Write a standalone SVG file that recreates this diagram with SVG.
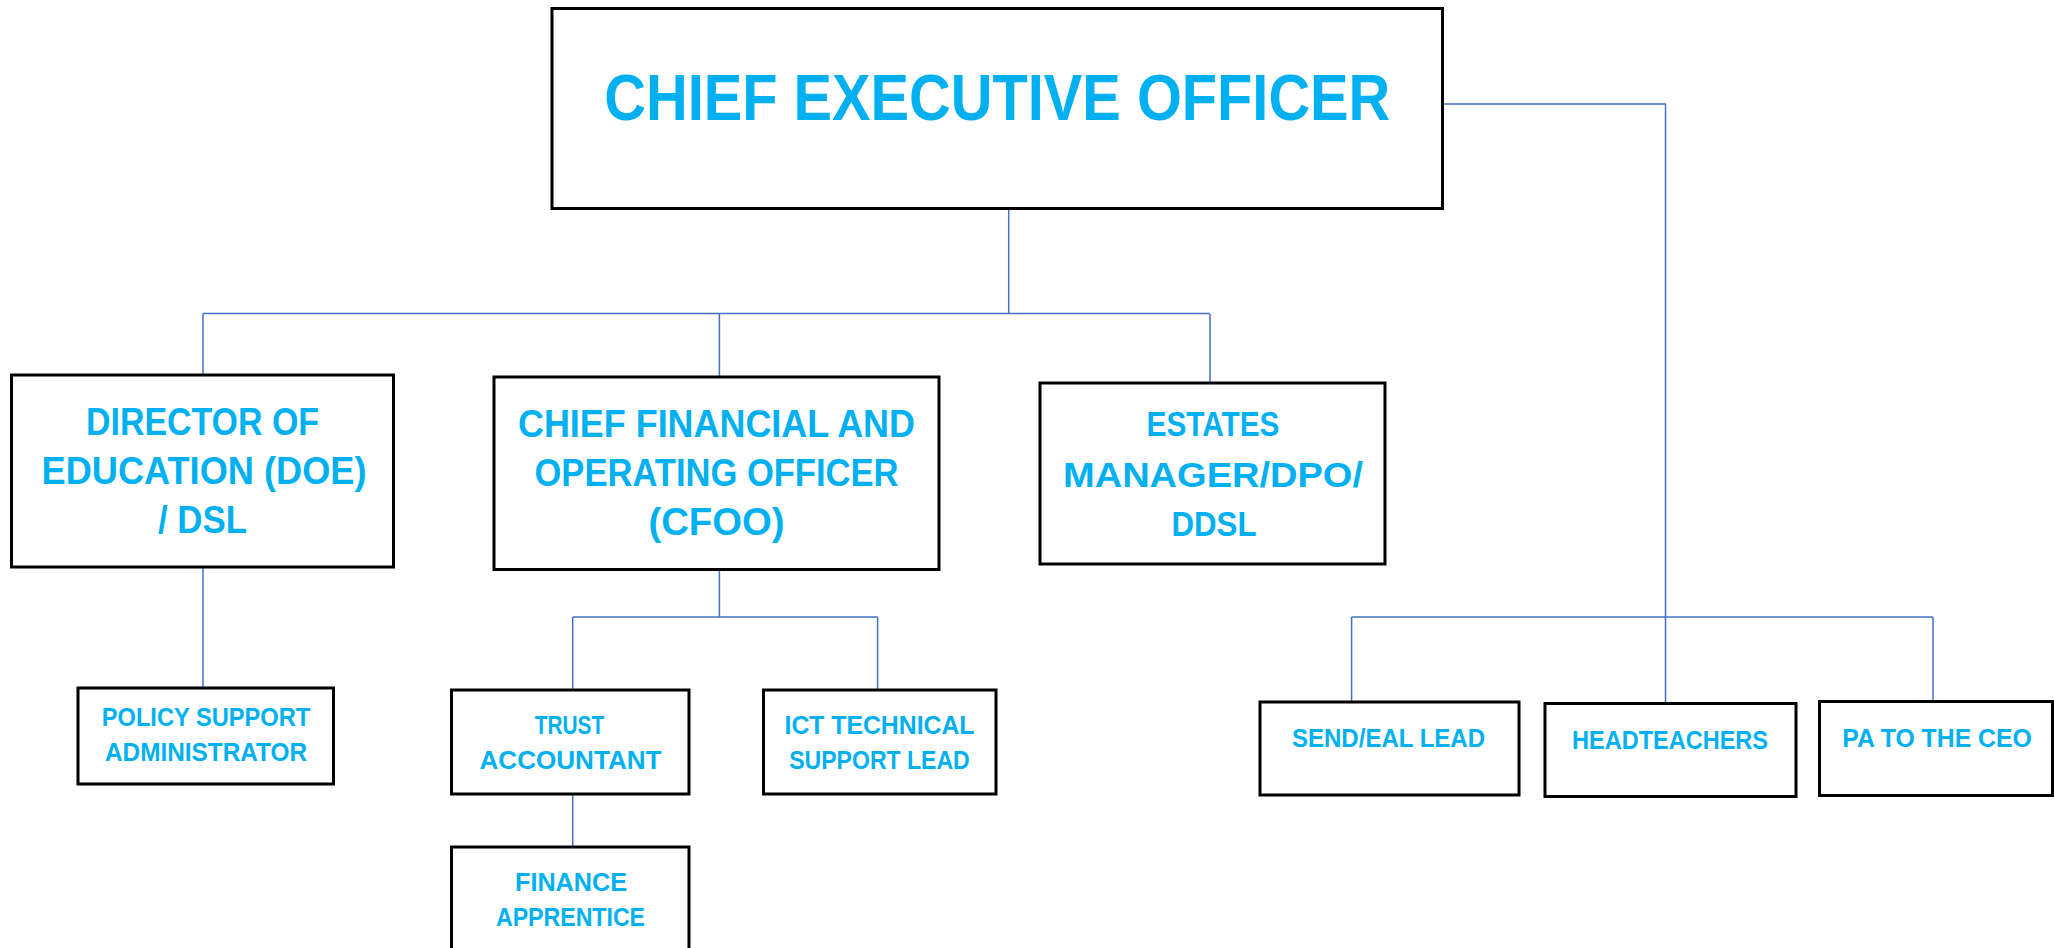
<svg xmlns="http://www.w3.org/2000/svg" width="2054" height="948" viewBox="0 0 2054 948">
<style>
.box{fill:#fff;stroke:#000;stroke-width:3}
.t{font-family:"Liberation Sans",Arial,sans-serif;font-weight:bold;fill:#00B0F0;text-anchor:middle}
.c{fill:none;stroke:#4472C4;stroke-width:1.5}
</style>
<rect width="2054" height="948" fill="#fff"/>
<g id="connectors">
<path class="c" d="M1008.7 209V314M203 313.5H1210M203 313.5V375M719.4 314V377M1210 314V383"/>
<path class="c" d="M1442.7 104H1665.5V702M1351.6 617H1933M1351.6 617V702M1933 617V701.5"/>
<path class="c" d="M203 567V688"/>
<path class="c" d="M719.4 569.5V617M572.7 617H877.6M572.7 617V690M877.6 617V690M572.7 794V847"/>
</g>
<g id="ceo">
<rect class="box" x="552" y="8.5" width="890.5" height="200"/>
<text class="t" x="997.3" y="120" font-size="65" textLength="786" lengthAdjust="spacingAndGlyphs">CHIEF EXECUTIVE OFFICER</text>
</g>
<g id="doe">
<rect class="box" x="11.5" y="375" width="382" height="192"/>
<text class="t" font-size="38" x="202.5" y="435" textLength="233" lengthAdjust="spacingAndGlyphs">DIRECTOR OF</text>
<text class="t" font-size="38" x="204" y="484" textLength="325" lengthAdjust="spacingAndGlyphs">EDUCATION (DOE)</text>
<text class="t" font-size="38" x="202.5" y="533" textLength="89" lengthAdjust="spacingAndGlyphs">/ DSL</text>
</g>
<g id="cfoo">
<rect class="box" x="494" y="377" width="445" height="192.5"/>
<text class="t" font-size="38" x="716.5" y="437" textLength="397" lengthAdjust="spacingAndGlyphs">CHIEF FINANCIAL AND</text>
<text class="t" font-size="38" x="716.5" y="486" textLength="364" lengthAdjust="spacingAndGlyphs">OPERATING OFFICER</text>
<text class="t" font-size="38" x="716.5" y="535" textLength="136" lengthAdjust="spacingAndGlyphs">(CFOO)</text>
</g>
<g id="estates">
<rect class="box" x="1040" y="383" width="345" height="181"/>
<text class="t" font-size="35" x="1213" y="436" textLength="133" lengthAdjust="spacingAndGlyphs">ESTATES</text>
<text class="t" font-size="35" x="1213" y="486.5" textLength="300" lengthAdjust="spacingAndGlyphs">MANAGER/DPO/</text>
<text class="t" font-size="35" x="1214" y="535.5" textLength="85" lengthAdjust="spacingAndGlyphs">DDSL</text>
</g>
<g id="policy">
<rect class="box" x="78" y="688" width="255.5" height="96"/>
<text class="t" font-size="26" x="206" y="725.5" textLength="208.5" lengthAdjust="spacingAndGlyphs">POLICY SUPPORT</text>
<text class="t" font-size="26" x="206" y="760.5" textLength="202" lengthAdjust="spacingAndGlyphs">ADMINISTRATOR</text>
</g>
<g id="trust">
<rect class="box" x="451.5" y="690" width="237.5" height="104"/>
<text class="t" font-size="26" x="569.5" y="734" textLength="69.5" lengthAdjust="spacingAndGlyphs">TRUST</text>
<text class="t" font-size="26" x="570.5" y="769" textLength="182" lengthAdjust="spacingAndGlyphs">ACCOUNTANT</text>
</g>
<g id="ict">
<rect class="box" x="763.5" y="690" width="232.5" height="104"/>
<text class="t" font-size="26" x="879.5" y="734" textLength="190" lengthAdjust="spacingAndGlyphs">ICT TECHNICAL</text>
<text class="t" font-size="26" x="879.5" y="769" textLength="180.5" lengthAdjust="spacingAndGlyphs">SUPPORT LEAD</text>
</g>
<g id="finance">
<rect class="box" x="451.5" y="847" width="237.5" height="120"/>
<text class="t" font-size="26" x="571" y="890.5" textLength="112" lengthAdjust="spacingAndGlyphs">FINANCE</text>
<text class="t" font-size="26" x="570.5" y="926" textLength="149" lengthAdjust="spacingAndGlyphs">APPRENTICE</text>
</g>
<g id="send">
<rect class="box" x="1260" y="702" width="259" height="93"/>
<text class="t" font-size="25.5" x="1388.5" y="746.5" textLength="193" lengthAdjust="spacingAndGlyphs">SEND/EAL LEAD</text>
</g>
<g id="headteachers">
<rect class="box" x="1545" y="703.5" width="251" height="93"/>
<text class="t" font-size="25.5" x="1670" y="748.5" textLength="196" lengthAdjust="spacingAndGlyphs">HEADTEACHERS</text>
</g>
<g id="pa">
<rect class="box" x="1819.5" y="701.5" width="233" height="94"/>
<text class="t" font-size="25.5" x="1937" y="746.5" textLength="189.5" lengthAdjust="spacingAndGlyphs">PA TO THE CEO</text>
</g>
</svg>
